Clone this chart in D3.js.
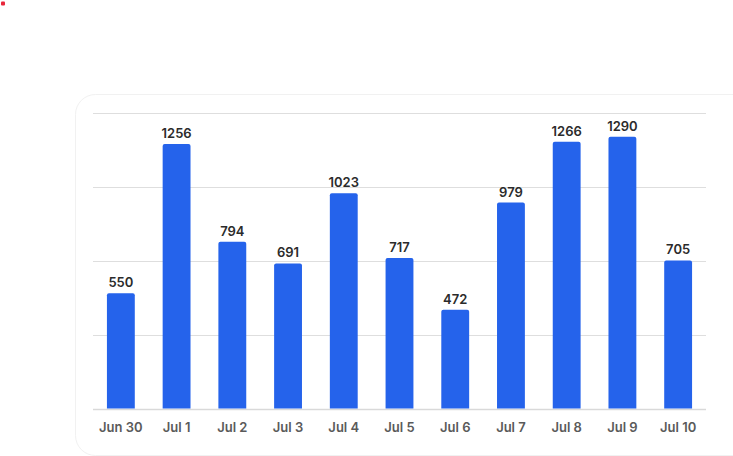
<!DOCTYPE html>
<html>
<head>
<meta charset="utf-8">
<script src="https://cdn.jsdelivr.net/npm/d3@7"></script>
<style>
  html, body { margin: 0; padding: 0; background: #fff; }
  body { width: 733px; height: 456px; overflow: hidden; font-family: Inter, "Noto Sans", sans-serif; }
</style>
</head>
<body>
<svg id="chart" width="733" height="456"></svg>
<script>
'use strict';

// chart data
const days = ['Jun 30', 'Jul 1', 'Jul 2', 'Jul 3', 'Jul 4', 'Jul 5', 'Jul 6', 'Jul 7', 'Jul 8', 'Jul 9', 'Jul 10'];
const counts = [550, 1256, 794, 691, 1023, 717, 472, 979, 1266, 1290, 705];
const gridTicks = [0, 350, 700, 1050, 1400];

const svg = d3.select('#chart');

// stray marker dot in the corner
svg.append('rect')
    .attr('x', 1).attr('y', 1.5)
    .attr('width', 4).attr('height', 4)
    .attr('rx', 1)
    .style('fill', '#e8263a');

// card
svg.append('rect')
    .attr('x', 75.5).attr('y', 94.5)
    .attr('width', 700).attr('height', 361)
    .attr('rx', 20)
    .style('fill', '#fff')
    .style('stroke', '#f1f1f1');

const x = d3.scaleBand()
    .domain(days)
    .range([93, 706])
    .paddingInner(0.5)
    .paddingOuter(0.25);

const y = d3.scaleLinear()
    .domain([0, 1400])
    .range([409.5, 113.5]);

// gridlines
svg.append('g')
    .selectAll('line')
    .data(gridTicks)
    .enter()
    .append('line')
    .attr('x1', 93).attr('x2', 706)
    .attr('y1', d => y(d)).attr('y2', d => y(d))
    .style('stroke', d => d === 0 ? '#d9d9d9' : '#dedede')
    .style('stroke-width', d => d === 0 ? 1.5 : 1);

// bars
svg.append('g')
    .selectAll('path')
    .data(counts)
    .enter()
    .append('path')
    .attr('d', (d, i) => {
        const x0 = x(days[i]), w = x.bandwidth(), top = y(d), bot = y(0) - 1, r = 2;
        return 'M' + x0 + ',' + bot + 'V' + (top + r) + 'Q' + x0 + ',' + top + ' ' + (x0 + r) + ',' + top +
            'H' + (x0 + w - r) + 'Q' + (x0 + w) + ',' + top + ' ' + (x0 + w) + ',' + (top + r) + 'V' + bot + 'Z';
    })
    .style('fill', '#2563eb');

// value labels
svg.append('g')
    .selectAll('text')
    .data(counts)
    .enter()
    .append('text')
    .attr('x', (d, i) => x(days[i]) + x.bandwidth() / 2)
    .attr('y', d => y(d) - 6)
    .attr('text-anchor', 'middle')
    .style('font-size', '13px')
    .style('font-weight', 600)
    .style('fill', '#2b2b2b')
    .text(d => d);

// x axis labels
const xAxis = d3.axisBottom(x).tickSize(0).tickPadding(13);
const gx = svg.append('g')
    .attr('transform', 'translate(0,' + y(0) + ')')
    .call(xAxis);
gx.select('.domain').remove();
gx.selectAll('text')
    .style('font-family', 'Inter, "Noto Sans", sans-serif')
    .style('font-size', '13px')
    .style('font-weight', 600)
    .style('fill', '#5a5a5a');
</script>
</body>
</html>
